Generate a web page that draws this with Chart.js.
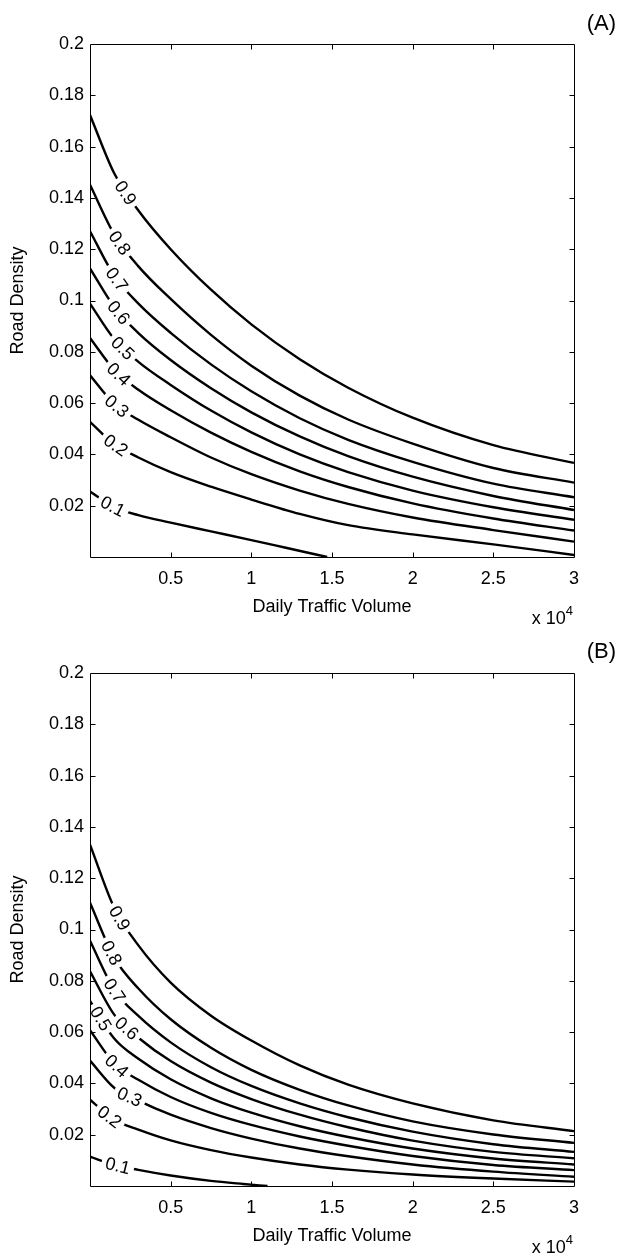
<!DOCTYPE html>
<html><head><meta charset="utf-8">
<script src="https://cdn.jsdelivr.net/npm/chart.js@4.4.1/dist/chart.umd.min.js"></script>
<style>
html,body{margin:0;padding:0;background:#fff;}
body{width:619px;height:1257px;position:relative;overflow:hidden;font-family:"Liberation Sans",Arial,sans-serif;color:#000;}
canvas{position:absolute;left:0;}
#cA{top:0}
#cB{top:629px}
.tag{position:absolute;font-size:22px;line-height:22px;right:3px;}
.mult{position:absolute;font-size:18px;line-height:18px;right:46px;white-space:nowrap;}
.mult .sup{font-size:13px;position:relative;top:-9px;}
</style></head>
<body>
<canvas id="cA" width="619" height="628"></canvas>
<canvas id="cB" width="619" height="628"></canvas>
<div class="tag" style="top:12px">(A)</div>
<div class="tag" style="top:640px">(B)</div>
<div class="mult" style="top:609px">x 10<span class="sup">4</span></div>
<div class="mult" style="top:1238px">x 10<span class="sup">4</span></div>
<script>
// ---- data ----
const levels = ['0.1','0.2','0.3','0.4','0.5','0.6','0.7','0.8','0.9'];
const xTicks = [0, 5000, 10000, 15000, 20000, 25000, 30000];
const xTickLabels = ['', '0.5', '1', '1.5', '2', '2.5', '3'];
const yTicks = [0, 0.02, 0.04, 0.06, 0.08, 0.1, 0.12, 0.14, 0.16, 0.18, 0.2];
const yTickLabels = ['', '0.02', '0.04', '0.06', '0.08', '0.1', '0.12', '0.14', '0.16', '0.18', '0.2'];

// daily traffic volume sample positions
const xGrid = [0, 1500, 3000, 5000, 7500, 10000, 13000, 16000, 20000, 25000, 30000];
const xLowA = [0, 1500, 3000, 5000, 7500, 10000, 12000, 14700];
const xLowB = [0, 1500, 3000, 5000, 7500, 9500, 11000];

// Panel A: road density along each contour level
const A_01 = [0.0255, 0.0195, 0.0163, 0.0134, 0.0100, 0.0066, 0.0038, 0];
const A_02 = [0.0527, 0.0440, 0.0388, 0.0331, 0.0274, 0.0224, 0.0168, 0.0124, 0.0088, 0.0049, 0.0008];
const A_03 = [0.0708, 0.0597, 0.0535, 0.0467, 0.0388, 0.0323, 0.0259, 0.0207, 0.0154, 0.0105, 0.0060];
const A_04 = [0.0854, 0.0730, 0.0652, 0.0572, 0.0485, 0.0410, 0.0334, 0.0273, 0.0209, 0.0150, 0.0103];
const A_05 = [0.0988, 0.0850, 0.0761, 0.0671, 0.0571, 0.0486, 0.0400, 0.0331, 0.0259, 0.0194, 0.0145];
const A_06 = [0.1125, 0.0975, 0.0873, 0.0768, 0.0658, 0.0564, 0.0470, 0.0393, 0.0313, 0.0238, 0.0183];
const A_07 = [0.1270, 0.1097, 0.0988, 0.0874, 0.0751, 0.0646, 0.0541, 0.0457, 0.0371, 0.0286, 0.0233];
const A_08 = [0.1451, 0.1258, 0.1133, 0.1006, 0.0866, 0.0746, 0.0629, 0.0536, 0.0442, 0.0347, 0.0290];
const A_09 = [0.1723, 0.1496, 0.1351, 0.1200, 0.1042, 0.0907, 0.0771, 0.0660, 0.0543, 0.0436, 0.0367];

// Panel B
const B_01 = [0.0114, 0.0083, 0.0063, 0.0041, 0.0020, 0.0008, 0];
const B_02 = [0.0337, 0.0258, 0.0220, 0.0178, 0.0140, 0.0111, 0.0084, 0.0064, 0.0045, 0.0029, 0.0017];
const B_03 = [0.0489, 0.0383, 0.0333, 0.0278, 0.0226, 0.0185, 0.0146, 0.0116, 0.0084, 0.0056, 0.0036];
const B_04 = [0.0607, 0.0478, 0.0414, 0.0347, 0.0285, 0.0238, 0.0193, 0.0157, 0.0117, 0.0082, 0.0062];
const B_05 = [0.0722, 0.0575, 0.0496, 0.0416, 0.0342, 0.0286, 0.0233, 0.0191, 0.0146, 0.0107, 0.0084];
const B_06 = [0.0837, 0.0668, 0.0578, 0.0487, 0.0403, 0.0339, 0.0278, 0.0229, 0.0177, 0.0133, 0.0108];
const B_07 = [0.0956, 0.0765, 0.0663, 0.0560, 0.0463, 0.0390, 0.0322, 0.0268, 0.0212, 0.0163, 0.0133];
const B_08 = [0.1104, 0.0890, 0.0770, 0.0650, 0.0539, 0.0453, 0.0375, 0.0314, 0.0252, 0.0201, 0.0168];
const B_09 = [0.1331, 0.1085, 0.0938, 0.0793, 0.0664, 0.0567, 0.0470, 0.0395, 0.0322, 0.0256, 0.0214];

// contour label anchor (daily traffic volume) per level
const labelXA = [1410, 1600, 1660, 1780, 2030, 1780, 1660, 1840, 2210];
const labelXB = [1720, 1220, 2460, 1660, 670, 2280, 1530, 1340, 1840];

// ---- chart ----
Chart.defaults.font.family = '"Liberation Sans", Arial, sans-serif';
Chart.defaults.color = '#000';

function buildDatasets(series, xs, labelX) {
  return series.map((vals, i) => ({
    label: levels[i],
    labelX: labelX[i],
    data: vals.map((v, j) => ({x: xs[i][j], y: v})),
    borderColor: '#000',
    borderWidth: 2.4,
    pointRadius: 0,
    fill: false,
    cubicInterpolationMode: 'monotone'
  }));
}

function pointAt(meta, px) {
  const line = meta.dataset;
  let p = null;
  try {
    p = line.interpolate({x: px}, 'x');
    if (Array.isArray(p)) p = p[0];
  } catch (e) { p = null; }
  if (!p || !isFinite(p.y)) {
    const pts = meta.data;
    for (let k = 0; k < pts.length - 1; k++) {
      if (px >= pts[k].x && px <= pts[k + 1].x) {
        const t = (px - pts[k].x) / (pts[k + 1].x - pts[k].x);
        return {x: px, y: pts[k].y + t * (pts[k + 1].y - pts[k].y)};
      }
    }
    return {x: px, y: pts[0].y};
  }
  return {x: px, y: p.y};
}

const contourLabels = {
  id: 'contourLabels',
  afterDatasetsDraw(chart) {
    const ctx = chart.ctx;
    const xs = chart.scales.x;
    chart.data.datasets.forEach((ds, i) => {
      const meta = chart.getDatasetMeta(i);
      const px = xs.getPixelForValue(ds.labelX);
      const c = pointAt(meta, px);
      const a = pointAt(meta, px - 4);
      const b = pointAt(meta, px + 4);
      const ang = Math.atan2(b.y - a.y, b.x - a.x);
      ctx.save();
      ctx.translate(c.x, c.y);
      ctx.rotate(ang);
      ctx.font = '18px "Liberation Sans", Arial, sans-serif';
      const w = ctx.measureText(ds.label).width;
      ctx.fillStyle = '#fff';
      ctx.fillRect(-w / 2 - 4, -3.5, w + 8, 7);
      ctx.fillStyle = '#000';
      ctx.textAlign = 'center';
      ctx.textBaseline = 'middle';
      ctx.fillText(ds.label, 0, 1);
      ctx.restore();
    });
  }
};

const boxTicks = {
  id: 'boxTicks',
  afterDatasetsDraw(chart) {
    const ctx = chart.ctx;
    const {left, right, top, bottom} = chart.chartArea;
    const xs = chart.scales.x, ys = chart.scales.y;
    const L = Math.round(left) + 0.5, R = Math.round(right) + 0.5;
    const T = Math.round(top) + 0.5, B = Math.round(bottom) + 0.5;
    ctx.save();
    ctx.strokeStyle = '#000';
    ctx.lineWidth = 1;
    ctx.beginPath();
    ctx.rect(L, T, R - L, B - T);
    const len = 5;
    xs.ticks.forEach(t => {
      const x = Math.round(xs.getPixelForValue(t.value)) + 0.5;
      if (x <= L + 1 || x >= R - 1) return;
      ctx.moveTo(x, B); ctx.lineTo(x, B - len);
      ctx.moveTo(x, T); ctx.lineTo(x, T + len);
    });
    ys.ticks.forEach(t => {
      const y = Math.round(ys.getPixelForValue(t.value)) + 0.5;
      if (y <= T + 1 || y >= B - 1) return;
      ctx.moveTo(L, y); ctx.lineTo(L + len, y);
      ctx.moveTo(R, y); ctx.lineTo(R - len, y);
    });
    ctx.stroke();
    ctx.restore();
  }
};

function makeChart(id, series, xs, labelX) {
  return new Chart(document.getElementById(id), {
    type: 'line',
    data: {datasets: buildDatasets(series, xs, labelX)},
    options: {
      responsive: false,
      animation: false,
      events: [],
      layout: {padding: {left: 0, top: 44, right: 45, bottom: 0}},
      plugins: {legend: {display: false}, tooltip: {enabled: false}},
      scales: {
        x: {
          type: 'linear', min: 0, max: 30000,
          afterBuildTicks(s) { s.ticks = xTicks.map(v => ({value: v})); },
          afterFit(s) { s.height = 71; },
          grid: {display: false, drawTicks: false},
          border: {display: false},
          ticks: {autoSkip: false, maxRotation: 0, padding: 11, color: '#000', font: {size: 18},
                  callback: (v, i) => xTickLabels[i]},
          title: {display: true, text: 'Daily Traffic Volume', color: '#000', font: {size: 18},
                  padding: {top: 0, bottom: 10}}
        },
        y: {
          type: 'linear', min: 0, max: 0.2,
          afterBuildTicks(s) { s.ticks = yTicks.map(v => ({value: v})); },
          afterFit(s) { s.width = 90; },
          grid: {display: false, drawTicks: false},
          border: {display: false},
          ticks: {autoSkip: false, padding: 6, color: '#000', font: {size: 18},
                  callback: (v, i) => yTickLabels[i]},
          title: {display: true, text: 'Road Density', color: '#000', font: {size: 18},
                  padding: {top: 7, bottom: 0}}
        }
      }
    },
    plugins: [contourLabels, boxTicks]
  });
}

const seriesA = [A_01, A_02, A_03, A_04, A_05, A_06, A_07, A_08, A_09];
const seriesB = [B_01, B_02, B_03, B_04, B_05, B_06, B_07, B_08, B_09];
const xsA = [xLowA, xGrid, xGrid, xGrid, xGrid, xGrid, xGrid, xGrid, xGrid];
const xsB = [xLowB, xGrid, xGrid, xGrid, xGrid, xGrid, xGrid, xGrid, xGrid];
makeChart('cA', seriesA, xsA, labelXA);
makeChart('cB', seriesB, xsB, labelXB);
</script>
</body></html>
